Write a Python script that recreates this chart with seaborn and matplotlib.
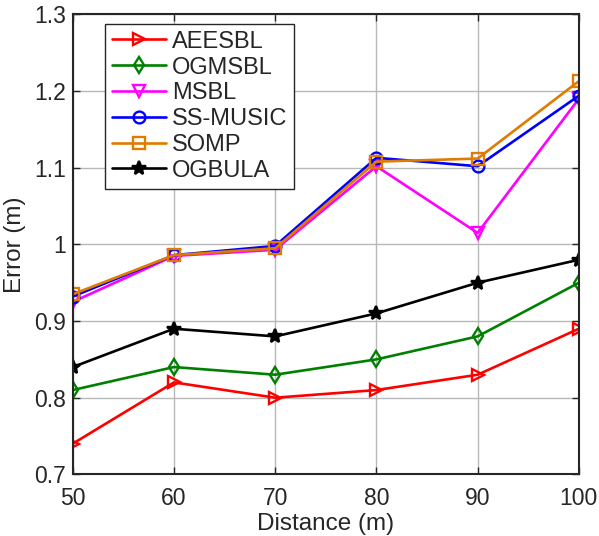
import matplotlib
matplotlib.use('Agg')
import matplotlib.pyplot as plt
import seaborn as sns
import pandas as pd

# datos
distancia = [50, 60, 70, 80, 90, 100]
aeesbl = [0.74, 0.82, 0.80, 0.81, 0.83, 0.89]
ogmsbl = [0.81, 0.84, 0.83, 0.85, 0.88, 0.95]
msbl = [0.925, 0.985, 0.993, 1.102, 1.015, 1.19]
ss_music = [0.932, 0.986, 0.998, 1.113, 1.102, 1.194]
somp = [0.935, 0.986, 0.995, 1.108, 1.112, 1.213]
ogbula = [0.84, 0.89, 0.88, 0.91, 0.95, 0.98]

metodos = ['AEESBL', 'OGMSBL', 'MSBL', 'SS-MUSIC', 'SOMP', 'OGBULA']
valores = [aeesbl, ogmsbl, msbl, ss_music, somp, ogbula]
colores = ['#ff0000', '#008000', '#ff00ff', '#0000ff', '#e07b00', '#000000']
marcadores = ['>', 'd', 'v', 'o', 's', '*']

sns.set_style('ticks')
plt.rcParams['font.family'] = ['Liberation Sans', 'DejaVu Sans']

df = pd.DataFrame({
    'distancia': distancia * len(metodos),
    'error': sum(valores, []),
    'metodo': [m for m in metodos for _ in distancia],
})

fig = plt.figure(figsize=(5.99, 5.36), dpi=100)
ax = fig.add_axes([0.1214, 0.115, 0.845, 0.858])

for met, col, mk in zip(metodos, colores, marcadores):
    sub = df[df['metodo'] == met]
    relleno = col if mk == '*' else 'none'
    tam = 10.5 if mk == '*' else 8.5
    sns.lineplot(x='distancia', y='error', data=sub, ax=ax, color=col,
                 marker=mk, markersize=tam, markerfacecolor=relleno,
                 markeredgecolor=col, markeredgewidth=1.7, linewidth=1.9,
                 label=met)

ax.set_xlim(50, 100)
ax.set_ylim(0.7, 1.3)
ax.set_xticks(distancia)
ax.set_yticks([0.7, 0.8, 0.9, 1.0, 1.1, 1.2, 1.3])
ax.set_yticklabels(['0.7', '0.8', '0.9', '1', '1.1', '1.2', '1.3'])
ax.grid(True, color='#b8b8b8', linewidth=1)
ax.tick_params(direction='in', top=True, right=True, labelsize=16.5,
               length=5, width=1, colors='#262626')
ax.tick_params(axis='x', pad=9)
ax.tick_params(axis='y', pad=5)
for s in ax.spines.values():
    s.set_color('#262626')
    s.set_linewidth(1.5)
ax.set_xlabel('Distance (m)', fontsize=17.5, labelpad=2, color='#262626')
ax.set_ylabel('Error (m)', fontsize=17.5, labelpad=6, color='#262626')

leg = ax.legend(loc='upper left', bbox_to_anchor=(0.063, 0.98), fontsize=17,
                frameon=True, fancybox=False, edgecolor='#262626',
                handlelength=2.3, borderpad=0.3, labelspacing=0.16,
                handletextpad=0.25, borderaxespad=0)
leg.get_frame().set_linewidth(1)
leg.get_frame().set_alpha(1)

fig.savefig('out.png', dpi=100)
